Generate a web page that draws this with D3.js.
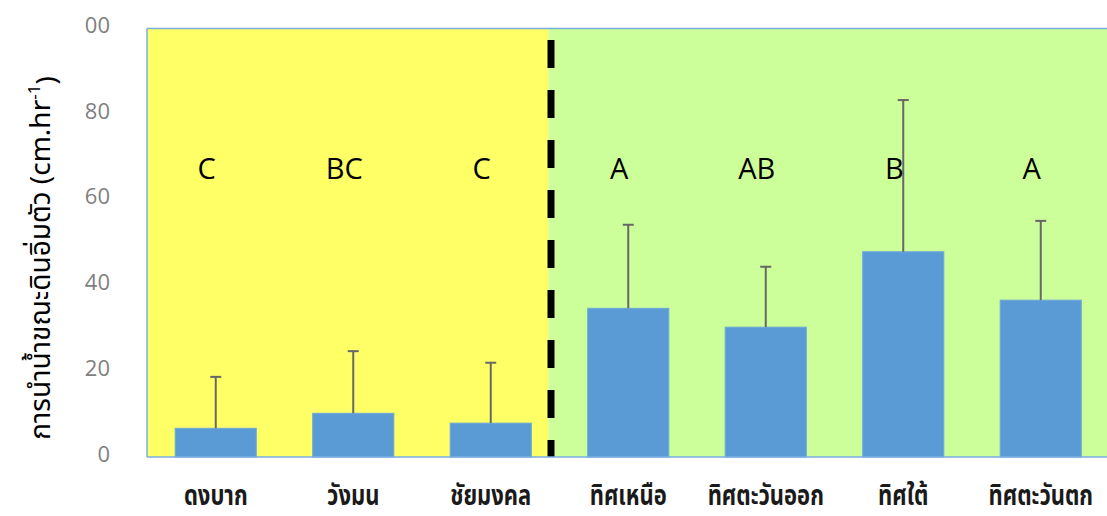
<!DOCTYPE html>
<html>
<head>
<meta charset="utf-8">
<script src="https://cdn.jsdelivr.net/npm/d3@7"></script>
<style>
  html, body { margin: 0; padding: 0; background: #fff; }
  svg { display: block; }
</style>
</head>
<body>
<svg id="chart" width="1107" height="516"></svg>
<script>
// Sites (left group) and slope aspects (right group)
const categories = ["ดงบาก", "วังมน", "ชัยมงคล", "ทิศเหนือ", "ทิศตะวันออก", "ทิศใต้", "ทิศตะวันตก"];
// Mean saturated hydraulic conductivity (cm/hr)
const means = [6.7, 10.2, 7.9, 34.7, 30.3, 47.9, 36.6];
// Upper end of the error bar (mean + SD)
const upper = [18.7, 24.7, 22.0, 54.2, 44.4, 83.3, 55.1];
// Statistical grouping letters
const groups = ["C", "BC", "C", "A", "AB", "B", "A"];
const yTicks = [0, 20, 40, 60, 80, 100];
const leftGroupCount = 3;

const svg = d3.select("#chart");
const margin = { top: 28.5, left: 147, bottom: 59 };
const bandStep = 137.5;
const plotRight = margin.left + bandStep * categories.length;
const plotBottom = 516 - margin.bottom;

const x = d3.scaleBand()
  .domain(categories)
  .range([margin.left, plotRight])
  .paddingInner(0.41)
  .paddingOuter(0.205);

const y = d3.scaleLinear().domain([0, 100]).range([plotBottom, margin.top]);

// split point between the two groups (sits just left of the band boundary)
const splitX = x(categories[leftGroupCount]) - x.step() * x.paddingInner() / 2 - x.step() * 0.08;

// backgrounds
svg.append("rect")
  .attr("x", margin.left).attr("y", y(100))
  .attr("width", splitX - margin.left).attr("height", y(0) - y(100))
  .attr("fill", "#ffff66");
svg.append("rect")
  .attr("x", splitX).attr("y", y(100))
  .attr("width", plotRight - splitX).attr("height", y(0) - y(100))
  .attr("fill", "#ccff99");

// bars
svg.append("g").selectAll("rect")
  .data(categories)
  .join("rect")
  .attr("x", d => x(d))
  .attr("y", (d, i) => y(means[i]))
  .attr("width", x.bandwidth())
  .attr("height", (d, i) => y(0) - y(means[i]))
  .attr("fill", "#5b9bd5")
  .attr("stroke", "#6fa8dc")
  .attr("stroke-width", 1);

// error bars (upper half only)
const eb = svg.append("g").attr("stroke", "#676767").attr("stroke-width", 2);
categories.forEach((c, i) => {
  const cx = x(c) + x.bandwidth() / 2;
  eb.append("line")
    .attr("x1", cx).attr("x2", cx)
    .attr("y1", y(means[i])).attr("y2", y(upper[i]));
  eb.append("line")
    .attr("x1", cx - 5.5).attr("x2", cx + 5.5)
    .attr("y1", y(upper[i])).attr("y2", y(upper[i]));
});

// dashed divider
svg.append("line")
  .attr("x1", splitX + 2.5).attr("x2", splitX + 2.5)
  .attr("y1", y(100) + 11.5).attr("y2", y(0))
  .attr("stroke", "#000")
  .attr("stroke-width", 7)
  .attr("stroke-dasharray", "28,22");

// plot frame
const frame = svg.append("g").attr("stroke", "#7aaee0").attr("stroke-width", 1.5);
frame.append("line")
  .attr("x1", margin.left).attr("x2", plotRight)
  .attr("y1", y(100)).attr("y2", y(100));
frame.append("line")
  .attr("x1", margin.left).attr("x2", margin.left)
  .attr("y1", y(100)).attr("y2", y(0));
frame.append("line")
  .attr("x1", margin.left).attr("x2", plotRight)
  .attr("y1", y(0)).attr("y2", y(0));

// grouping letters
svg.append("g").selectAll("text")
  .data(groups)
  .join("text")
  .attr("x", (d, i) => x(categories[i]) + x.bandwidth() / 2 - 9)
  .attr("y", y(67.2))
  .attr("dy", "0.36em")
  .attr("text-anchor", "middle")
  .attr("font-family", "'Open Sans', 'Noto Sans', sans-serif")
  .attr("font-size", 29)
  .attr("fill", "#000")
  .text(d => d);

// y axis labels (the leading digit of the top label is cut by the page edge area)
svg.append("defs").append("clipPath").attr("id", "yclip")
  .append("rect").attr("x", 81 - 110).attr("y", 3).attr("width", 100).attr("height", 516);

const yAxis = d3.axisLeft(y).tickValues(yTicks).tickSize(0).tickPadding(0);
const yg = svg.append("g")
  .attr("transform", "translate(110,-3)")
  .attr("clip-path", "url(#yclip)")
  .call(yAxis);
yg.select(".domain").remove();
yg.selectAll("text")
  .attr("font-family", "'Open Sans', 'Noto Sans', sans-serif")
  .attr("font-size", 22)
  .attr("fill", "#7f7f7f");

// x axis labels (tall, condensed look)
svg.append("g").selectAll("text")
  .data(categories)
  .join("text")
  .attr("transform", d => `translate(${x(d) + x.bandwidth() / 2},495) scale(1,1.3)`)
  .attr("dy", "0.35em")
  .attr("text-anchor", "middle")
  .attr("font-family", "'Noto Sans Thai', 'Noto Sans', 'DejaVu Sans', sans-serif")
  .attr("font-weight", "bold")
  .attr("font-size", 22)
  .attr("fill", "#1a1a1a")
  .text(d => d);

// y axis title
const yt = svg.append("text")
  .attr("transform", "translate(40,258) rotate(-90)")
  .attr("text-anchor", "middle")
  .attr("dy", "0.35em")
  .attr("font-family", "'Noto Sans Thai', 'Noto Sans', 'DejaVu Sans', sans-serif")
  .attr("font-size", 28)
  .attr("fill", "#000");
yt.append("tspan").text("การนำน้ำขณะดินอิ่มตัว (cm.hr");
yt.append("tspan").attr("dy", "-0.55em").attr("font-size", 17).text("-1");
yt.append("tspan").attr("dy", "0.55em").text(")");
</script>
</body>
</html>
